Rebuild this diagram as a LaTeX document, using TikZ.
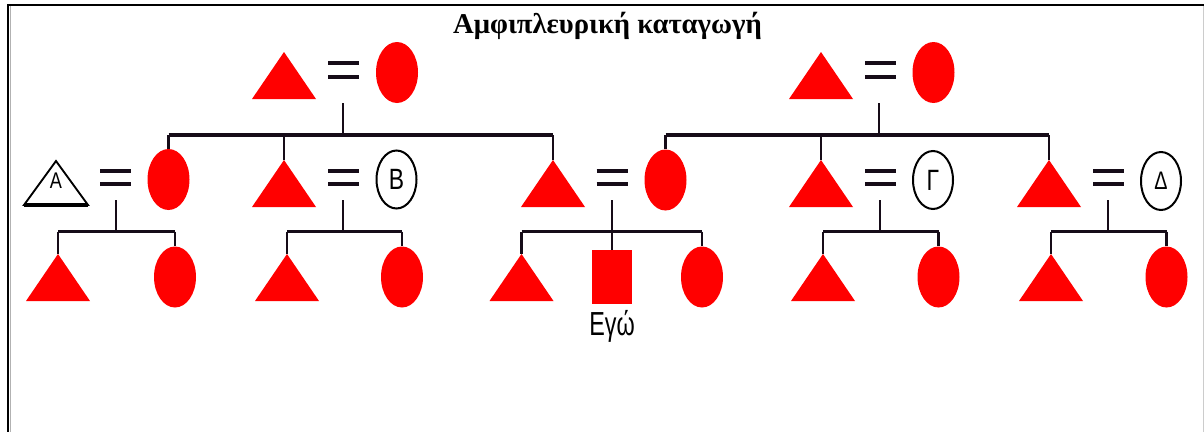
\documentclass[tikz,border=0pt]{standalone}
\usepackage{fontspec}
\usepackage{graphicx}
\setmainfont{Liberation Serif}
\newfontfamily\labfont{Liberation Sans}
\usetikzlibrary{shapes.geometric}
\definecolor{pedred}{RGB}{255,0,0}
\definecolor{linec}{RGB}{22,12,24}
\newcommand\redtri[3]{\coordinate (#1) at (#2,#3); \fill[pedred] (#1) -- ++(32,47) -- ++(-64,0) -- cycle;}
\newcommand\marry[3]{\coordinate (#1) at (#2,#3); \draw[eqbar] (#1) ++(-15.5,-6.6) -- ++(31,0) (#1) ++(-15.5,6.6) -- ++(31,0);}
\begin{document}
\begin{tikzpicture}[x=0.75pt,y=-0.75pt,
  fem/.style={ellipse, fill=pedred, minimum width=31.5pt, minimum height=45.75pt, inner sep=0pt},
  lab/.style={ellipse, draw=black, line width=1.5pt, minimum width=30pt, minimum height=43.5pt, inner sep=0pt, font=\labfont\fontsize{22}{22}\selectfont},
  egobox/.style={rectangle, fill=pedred, minimum width=30pt, minimum height=40.5pt, inner sep=0pt},
  vline/.style={draw=linec, line width=1.6pt},
  hline/.style={draw=linec, line width=2.8pt},
  eqbar/.style={draw=linec, line width=3pt}]
\useasboundingbox (0,0) rectangle (1204,432);
\fill[white] (0,0) rectangle (1204,432);
% frame
\draw[gray!60, line width=0.75pt] (10,6) -- (10,432);
\draw[gray!40, line width=0.75pt] (1203,6) -- (1203,432);
\draw[black, line width=1.8pt] (8,432) -- (8,5) -- (1204,5);
% title
\node[anchor=base, inner sep=0pt, font=\bfseries\fontsize{21.5}{24}\selectfont] (title) at (607.5,33) {Αμφιπλευρική καταγωγή};

% ---- generation 1, left
\redtri{gfL}{284}{52}
\node[fem] (gmL) at (397,72.5) {};
\marry{mL}{343.5}{70}
\coordinate (dL) at (343,103);
\coordinate (bL) at (343,135);
% ---- generation 1, right
\redtri{gfR}{821}{52}
\node[fem] (gmR) at (933.5,72.5) {};
\marry{mR}{880.5}{70}
\coordinate (dR) at (879,103);
\coordinate (bR) at (879,135);

% ---- generation 2: A
\coordinate (hA) at (56,161);
\draw[black, line width=1.4pt, line join=miter] (hA) -- ++(32,44) -- ++(-64,0) -- cycle;
\draw[black, line width=2.8pt] (24,205) -- (88,205);
\node[inner sep=0pt, font=\labfont\fontsize{17}{17}\selectfont] (lA) at (56,181) {\scalebox{0.8}[1]{Α}};
\marry{mA}{115.5}{177.5}
\node[fem] (wA) at (168.5,179.5) {};
\coordinate (dA) at (116,200);
\coordinate (bA) at (116,231.5);
% B
\redtri{tB}{284}{160}
\marry{mB}{343.5}{177.5}
\node[lab] (wB) at (396.5,179.5) {\scalebox{0.78}[1]{B}};
\coordinate (dB) at (343,200);
\coordinate (bB) at (343,231.5);
% Ego's parents
\redtri{fE}{553}{160}
\marry{mE0}{612}{177.5}
\node[fem] (mE) at (665.5,180) {};
\coordinate (dE) at (612,200);
\coordinate (bE) at (612,231.5);
% Gamma
\redtri{tG}{821}{160}
\marry{mG}{880.5}{177.5}
\node[lab] (wG) at (933,180) {\scalebox{0.78}[1]{Γ}};
\coordinate (dG) at (880,200);
\coordinate (bG) at (880,231.5);
% Delta
\redtri{tD}{1049}{160}
\marry{mD}{1108.5}{177.5}
\node[lab, font=\labfont\fontsize{19}{19}\selectfont] (wD) at (1161,181) {\scalebox{0.78}[1]{Δ}};
\coordinate (dD) at (1108,200);
\coordinate (bD) at (1108,231.5);

% ---- generation 3
\redtri{cA1}{58}{254}
\node[fem] (cA2) at (175,277) {};
\redtri{cB1}{287}{254}
\node[fem] (cB2) at (402,277) {};
\redtri{cE1}{521.5}{254}
\node[egobox] (ego) at (612,277) {};
\node[fem] (cE3) at (702,277) {};
\redtri{cG1}{823}{254}
\node[fem] (cG2) at (938.5,277) {};
\redtri{cD1}{1051}{254}
\node[fem] (cD2) at (1166.5,277) {};
\node[anchor=base, inner sep=0pt, font=\labfont\fontsize{25}{25}\selectfont] (egolabel) at (612,335) {\scalebox{0.7}[1]{Εγώ}};

% ---- connectors
\draw[vline] (dL) -- (bL);
\draw[vline] (dR) -- (bR);
\draw[hline] (wA.north |- bL) -- (fE |- bL);
\draw[hline] (mE.north |- bR) -- (tD |- bR);
\draw[vline] (wA.north |- bL) -- (wA.north);
\draw[vline] (tB |- bL) -- (tB);
\draw[vline] (fE |- bL) -- (fE);
\draw[vline] (mE.north |- bR) -- (mE.north);
\draw[vline] (tG |- bR) -- (tG);
\draw[vline] (tD |- bR) -- (tD);

\foreach \d/\b/\l/\r in {dA/bA/cA1/cA2, dB/bB/cB1/cB2, dE/bE/cE1/cE3, dG/bG/cG1/cG2, dD/bD/cD1/cD2}{
  \draw[vline] (\d) -- (\b);
  \draw[hline] (\l |- \b) -- (\r.north |- \b);
  \draw[vline] (\l |- \b) -- (\l);
  \draw[vline] (\r.north |- \b) -- (\r.north);
}
\draw[vline] (bE) -- (ego.north);
\end{tikzpicture}
\end{document}
